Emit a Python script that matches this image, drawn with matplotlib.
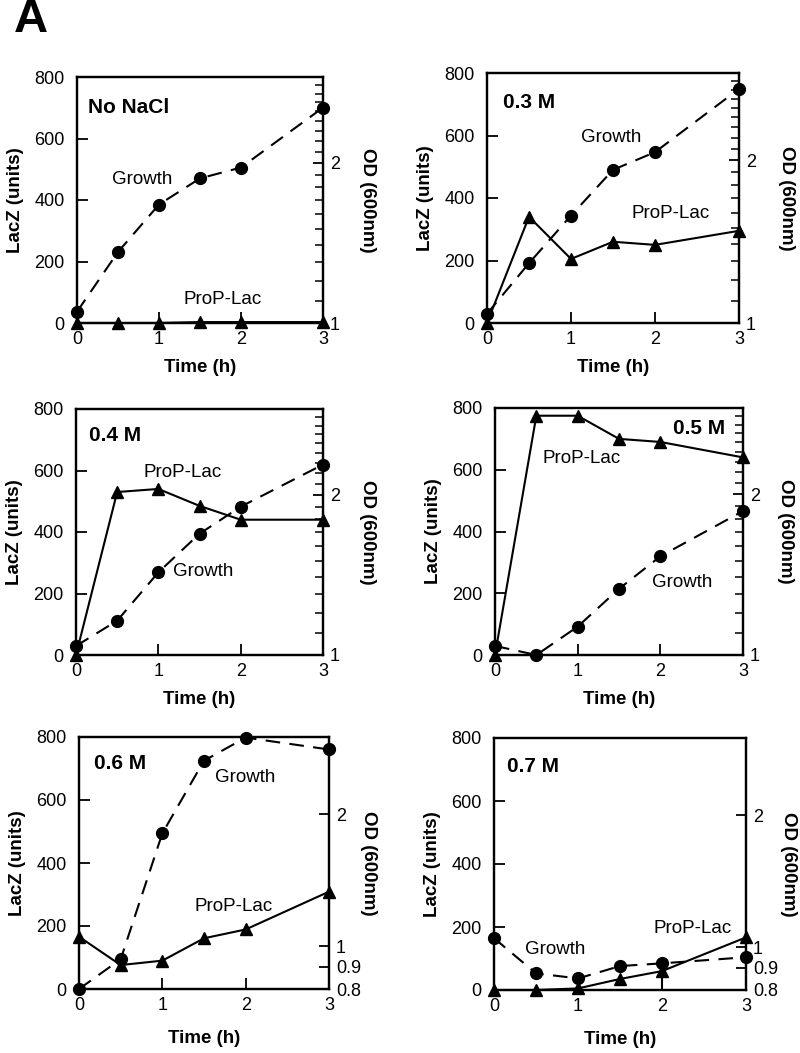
# ProP-Lac induction and growth at different NaCl concentrations

import matplotlib.pyplot as plt
from matplotlib.ticker import FixedLocator, NullFormatter, NullLocator

plt.rcParams['font.family'] = ['Liberation Sans', 'DejaVu Sans']

times = [0, 0.5, 1, 1.5, 2, 3]
panel_titles = ["No NaCl", "0.3 M", "0.4 M", "0.5 M", "0.6 M", "0.7 M"]

# LacZ units (left axis)
prop_noNaCl = [0, 0, 0, 3, 3, 3]
prop_03 = [0, 340, 205, 260, 250, 295]
prop_04 = [0, 530, 540, 485, 440, 440]
prop_05 = [0, 775, 775, 700, 690, 640]
prop_06 = [166, 76, 90, 161, 189, 309]
prop_07 = [0, 0, 5, 35, 60, 167]

# OD 600nm (right axis, log)
od_noNaCl = [1.05, 1.36, 1.67, 1.87, 1.96, 2.54]
od_03 = [1.04, 1.29, 1.58, 1.92, 2.07, 2.71]
od_04 = [1.04, 1.16, 1.43, 1.69, 1.90, 2.28]
od_05 = [1.04, 1.00, 1.13, 1.33, 1.53, 1.86]
od_06 = [0.80, 0.935, 1.81, 2.65, 2.99, 2.81]
od_07 = [1.05, 0.873, 0.85, 0.907, 0.92, 0.95]

prop_sets = [prop_noNaCl, prop_03, prop_04, prop_05, prop_06, prop_07]
od_sets = [od_noNaCl, od_03, od_04, od_05, od_06, od_07]

# label positions (time, LacZ units)
title_pos = [(0.13, 700, 'left'), (0.19, 704, 'left'), (0.16, 715, 'left'),
             (2.78, 732, 'right'), (0.18, 717, 'left'), (0.155, 708, 'left')]
growth_pos = [(0.8, 468), (1.48, 592), (1.55, 273), (2.26, 236), (2.0, 670), (0.73, 130)]
prop_pos = [(1.78, 78), (2.19, 352), (1.30, 592), (1.05, 638), (1.85, 263), (2.36, 194)]

# axes boxes in pixels (left, right, top, bottom) of an 800x1053 figure
boxes = [(77, 323, 77, 323), (487, 739, 73, 323),
         (76, 323, 409, 655), (495, 743, 408, 655),
         (79, 329, 737, 989), (494, 746, 738, 990)]
od_label_x = [1.179, 1.19, 1.18, 1.17, 1.156, 1.167]

W, H = 800, 1053
fig = plt.figure(figsize=(W / 100, H / 100), dpi=100)

fs = 13
lfs = 13.5
for i in range(6):
    l, r, t, b = boxes[i]
    ax = fig.add_axes([l / W, 1 - b / H, (r - l) / W, (b - t) / H])
    ax2 = ax.twinx()

    ax.plot(times, prop_sets[i], color='black', lw=1.5, marker='^', ms=8,
            clip_on=False, zorder=3)
    if i == 5:
        ax.vlines(times[4], 0, prop_sets[i][4], color='black', lw=1.5)

    ax2.plot(times, od_sets[i], color='black', lw=1.5, ls=(0, (7, 4.5)),
             marker='o', ms=8.5, clip_on=False, zorder=3)

    ax.set_xlim(0, 3)
    ax.set_ylim(0, 800)
    ax.set_xticks([0, 1, 2, 3])
    ax.set_yticks([0, 200, 400, 600, 800])
    ax.tick_params(direction='in', length=8, width=1.3, labelsize=fs)
    ax.tick_params(axis='y', pad=9)
    ax.tick_params(axis='x', pad=6)

    ax2.set_yscale('log')
    if i < 4:
        ax2.set_ylim(1, 2.9)
        ax2.yaxis.set_major_locator(FixedLocator([1, 2]))
        ax2.yaxis.set_minor_locator(FixedLocator([1 + 0.1 * k for k in range(1, 19) if k != 10]))
        ax2.set_yticklabels(['1', '2'])
    else:
        ax2.set_ylim(0.8, 3)
        ax2.yaxis.set_major_locator(FixedLocator([0.8, 0.9, 1, 2]))
        ax2.yaxis.set_minor_locator(NullLocator())
        ax2.set_yticklabels(['0.8', '0.9', '1', '2'])
    ax2.yaxis.set_minor_formatter(NullFormatter())
    ax2.tick_params(which='major', direction='in', length=7, width=1.3, labelsize=fs, pad=5)
    ax2.tick_params(which='minor', direction='in', length=6, width=1.1)

    for sp in ax.spines.values():
        sp.set_linewidth(1.6)
    for sp in ax2.spines.values():
        sp.set_linewidth(1.6)

    ax.set_xlabel("Time (h)", fontsize=lfs, fontweight='bold',
                  labelpad=11 if i >= 4 else 8)
    ax.set_ylabel("LacZ (units)", fontsize=lfs, fontweight='bold', labelpad=7)
    ax2.set_ylabel("OD (600nm)", fontsize=lfs, fontweight='bold', rotation=270,
                   va='center')
    ax2.yaxis.set_label_coords(od_label_x[i], 0.5)

    tx, ty, ha = title_pos[i]
    ax2.text(tx, ty, panel_titles[i], transform=ax.transData, fontsize=15,
             fontweight='bold', ha=ha, va='center')
    gx, gy = growth_pos[i]
    bb = dict(facecolor='white', edgecolor='none', pad=1) if i in (2, 5) else None
    ax2.text(gx, gy, "Growth", transform=ax.transData, fontsize=lfs,
             ha='center', va='center', bbox=bb, zorder=5)
    px, py = prop_pos[i]
    ax2.text(px, py, "ProP-Lac", transform=ax.transData, fontsize=lfs,
             ha='center', va='center')

fig.text(14 / W, 1 - 20 / H, "A", fontsize=34, fontweight='bold', va='center', ha='left')

plt.savefig("out.png", dpi=100)
